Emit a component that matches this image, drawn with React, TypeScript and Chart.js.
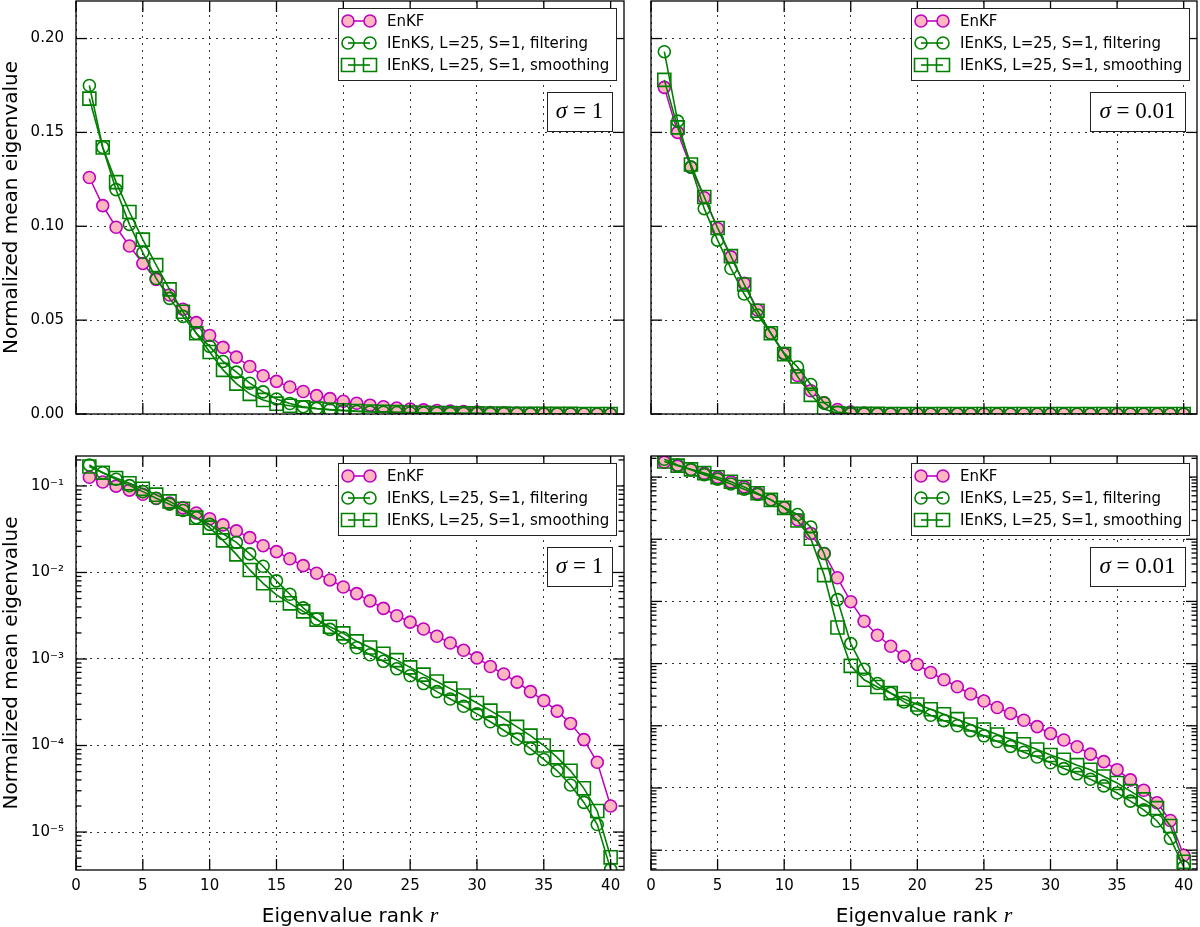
import React, { useEffect, useRef } from 'react';
import { Chart, registerables } from 'chart.js';

Chart.register(...registerables);

// eigenvalue rank r
const ranks = [1, 2, 3, 4, 5, 6, 7, 8, 9, 10, 11, 12, 13, 14, 15, 16, 17, 18, 19, 20,
  21, 22, 23, 24, 25, 26, 27, 28, 29, 30, 31, 32, 33, 34, 35, 36, 37, 38, 39, 40];

// sigma = 1
const enkfSigma1 = [0.126, 0.111, 0.0995, 0.0895, 0.0802, 0.0717, 0.0634, 0.0558, 0.0487, 0.0418,
  0.0355, 0.0303, 0.0253, 0.0204, 0.0174, 0.0144, 0.012, 0.0098, 0.0082, 0.0068,
  0.0057, 0.0047, 0.00385, 0.00316, 0.00267, 0.00222, 0.00183, 0.00153, 0.00126, 0.00103,
  8.2e-4, 6.7e-4, 5.4e-4, 4.2e-4, 3.3e-4, 2.5e-4, 1.8e-4, 1.17e-4, 6.4e-5, 2.0e-5];
const filterSigma1 = [0.175, 0.142, 0.1195, 0.101, 0.086, 0.0722, 0.0616, 0.052, 0.043, 0.036,
  0.028, 0.0223, 0.0164, 0.0118, 0.008, 0.0056, 0.0039, 0.0029, 0.0022, 0.00175,
  0.00135, 0.00112, 9.4e-4, 7.7e-4, 6.4e-4, 5.2e-4, 4.2e-4, 3.45e-4, 2.84e-4, 2.32e-4,
  1.88e-4, 1.5e-4, 1.19e-4, 9.2e-5, 6.9e-5, 5.1e-5, 3.5e-5, 2.2e-5, 1.22e-5, 3.7e-6];
const smoothSigma1 = [0.168, 0.142, 0.1235, 0.1076, 0.0929, 0.0793, 0.0664, 0.0545, 0.043, 0.033,
  0.0235, 0.0162, 0.0107, 0.0075, 0.0055, 0.0044, 0.00355, 0.00285, 0.00236, 0.00198,
  0.0016, 0.00136, 0.00115, 9.7e-4, 8.0e-4, 6.6e-4, 5.5e-4, 4.55e-4, 3.78e-4, 3.1e-4,
  2.53e-4, 2.05e-4, 1.64e-4, 1.3e-4, 1.0e-4, 7.3e-5, 5.1e-5, 3.2e-5, 1.75e-5, 5.1e-6];

// sigma = 0.01
const enkfSigma001 = [0.174, 0.15, 0.1315, 0.1152, 0.0988, 0.0837, 0.0696, 0.0554, 0.043, 0.032,
  0.0205, 0.0124, 0.0059, 0.0024, 9.9e-4, 4.8e-4, 2.86e-4, 1.9e-4, 1.31e-4, 9.7e-5,
  7.2e-5, 5.5e-5, 4.25e-5, 3.25e-5, 2.5e-5, 1.97e-5, 1.58e-5, 1.23e-5, 9.7e-6, 7.5e-6,
  5.9e-6, 4.6e-6, 3.5e-6, 2.65e-6, 1.97e-6, 1.35e-6, 9.2e-7, 5.8e-7, 3.0e-7, 8.3e-8];
const filterSigma001 = [0.193, 0.156, 0.1315, 0.1094, 0.0926, 0.0775, 0.0639, 0.0527, 0.043, 0.0324,
  0.025, 0.0157, 0.0059, 0.00107, 2.1e-4, 8.1e-5, 4.8e-5, 3.35e-5, 2.42e-5, 1.87e-5,
  1.48e-5, 1.21e-5, 1.0e-5, 8.35e-6, 6.9e-6, 5.6e-6, 4.67e-6, 3.75e-6, 3.15e-6, 2.55e-6,
  2.05e-6, 1.69e-6, 1.38e-6, 1.08e-6, 8.3e-7, 6.15e-7, 4.45e-7, 2.95e-7, 1.55e-7, 5.4e-8];
const smoothSigma001 = [0.178, 0.1527, 0.1329, 0.1156, 0.0991, 0.0841, 0.069, 0.055, 0.043, 0.0319,
  0.02, 0.0102, 0.00265, 3.8e-4, 9.2e-5, 5.5e-5, 4.2e-5, 3.35e-5, 2.7e-5, 2.2e-5,
  1.85e-5, 1.53e-5, 1.28e-5, 1.05e-5, 8.7e-6, 7.25e-6, 6.05e-6, 5.05e-6, 4.15e-6, 3.4e-6,
  2.84e-6, 2.33e-6, 1.96e-6, 1.53e-6, 1.2e-6, 8.9e-7, 6.55e-7, 4.75e-7, 2.45e-7, 6.5e-8];

const seriesLabels = ['EnKF', 'IEnKS, L=25, S=1, filtering', 'IEnKS, L=25, S=1, smoothing'];
const xTicks = [0, 5, 10, 15, 20, 25, 30, 35, 40];
const linTicks = [0, 0.05, 0.1, 0.15, 0.2];
const logTicksSigma1 = [1e-5, 1e-4, 1e-3, 1e-2, 1e-1];
const logTicksSigma001 = [1e-7, 1e-6, 1e-5, 1e-4, 1e-3, 1e-2, 1e-1];

const MAGENTA = '#bf00bf';
const PINK = '#ffb6c1';
const GREEN = '#008000';
const SANS = '"DejaVu Sans", sans-serif';
const SERIF = '"Liberation Serif", "DejaVu Serif", serif';
const SUP: Record<string, string> = { '-': '\u207b', '0': '\u2070', '1': '\u00b9', '2': '\u00b2', '3': '\u00b3', '4': '\u2074', '5': '\u2075', '6': '\u2076', '7': '\u2077', '8': '\u2078', '9': '\u2079' };

const powLabel = (v: number) => {
  const e = String(Math.round(Math.log10(v)));
  return '10' + e.split('').map((c) => SUP[c]).join('');
};

interface PanelProps {
  left: number;
  top: number;
  width: number;
  height: number;
  area: [number, number, number, number];
  log: boolean;
  yMin: number;
  yMax: number;
  yTicks: number[];
  yLabels: boolean;
  xLabels: boolean;
  sigma: string;
  sigmaWidth: number;
  enkf: number[];
  filt: number[];
  smooth: number[];
}

const drawMarker = (ctx: CanvasRenderingContext2D, kind: number, x: number, y: number) => {
  ctx.beginPath();
  if (kind === 2) {
    ctx.rect(x - 6.5, y - 6.5, 13, 13);
  } else {
    ctx.arc(x, y, 6, 0, Math.PI * 2);
  }
  if (kind === 0) {
    ctx.fillStyle = PINK;
    ctx.fill();
    ctx.strokeStyle = MAGENTA;
  } else {
    ctx.strokeStyle = GREEN;
  }
  ctx.lineWidth = 1.6;
  ctx.stroke();
};

const Panel: React.FC<PanelProps> = (p) => {
  const chartRef = useRef<HTMLCanvasElement>(null);
  const chartInstanceRef = useRef<Chart | null>(null);

  useEffect(() => {
    if (!chartRef.current) return;
    if (chartInstanceRef.current) chartInstanceRef.current.destroy();
    const ctx = chartRef.current.getContext('2d');
    if (!ctx) return;

    const [aL, aT, aR, aB] = p.area;

    const decor = {
      id: 'decor',
      afterDraw(chart: Chart) {
        const c = chart.ctx;
        const a = chart.chartArea;
        const xs = chart.scales.x;
        const ys = chart.scales.y;
        c.save();
        c.strokeStyle = '#000';
        c.lineWidth = 1.3;
        c.setLineDash([]);
        const tick = (x1: number, y1: number, x2: number, y2: number) => {
          c.beginPath();
          c.moveTo(x1, y1);
          c.lineTo(x2, y2);
          c.stroke();
        };
        xTicks.forEach((v) => {
          const px = xs.getPixelForValue(v);
          tick(px, a.bottom, px, a.bottom - 11);
          tick(px, a.top, px, a.top + 11);
        });
        p.yTicks.forEach((v) => {
          const py = ys.getPixelForValue(v);
          tick(a.left, py, a.left + 11, py);
          tick(a.right, py, a.right - 11, py);
        });
        if (p.log) {
          for (let e = Math.floor(Math.log10(p.yMin)); e <= 0; e++) {
            for (let k = 2; k <= 9; k++) {
              const v = k * Math.pow(10, e);
              if (v <= p.yMin || v >= p.yMax) continue;
              const py = ys.getPixelForValue(v);
              tick(a.left, py, a.left + 5.5, py);
              tick(a.right, py, a.right - 5.5, py);
            }
          }
        }
        c.strokeRect(a.left, a.top, a.right - a.left, a.bottom - a.top);

        // legend
        const bw = 278;
        const bh = 72;
        const bx = a.right - 8 - bw;
        const by = a.top + 7;
        c.fillStyle = '#fff';
        c.fillRect(bx, by, bw, bh);
        c.lineWidth = 1;
        c.strokeStyle = '#222';
        c.strokeRect(bx + 0.5, by + 0.5, bw, bh);
        seriesLabels.forEach((lab, i) => {
          const cy = by + 13 + 22 * i;
          c.beginPath();
          c.moveTo(bx + 10, cy);
          c.lineTo(bx + 32, cy);
          c.strokeStyle = i === 0 ? MAGENTA : GREEN;
          c.lineWidth = 1.6;
          c.stroke();
          drawMarker(c, i, bx + 10, cy);
          drawMarker(c, i, bx + 32, cy);
          c.fillStyle = '#000';
          c.font = `15px ${SANS}`;
          c.textAlign = 'left';
          c.textBaseline = 'middle';
          c.fillText(lab, bx + 49, cy + 1);
        });

        // sigma box
        const sw = p.sigmaWidth;
        const sx = a.right - 12 - sw;
        const sy = a.top + 91;
        c.fillStyle = '#fff';
        c.fillRect(sx, sy, sw, 39);
        c.strokeStyle = '#222';
        c.lineWidth = 1;
        c.strokeRect(sx + 0.5, sy + 0.5, sw, 39);
        c.font = `italic 23px ${SERIF}`;
        const w1 = c.measureText('\u03c3').width;
        c.font = `23px ${SERIF}`;
        const rest = ' = ' + p.sigma;
        const w2 = c.measureText(rest).width;
        let tx = sx + sw / 2 - (w1 + w2) / 2;
        c.fillStyle = '#000';
        c.textAlign = 'left';
        c.textBaseline = 'middle';
        c.font = `italic 23px ${SERIF}`;
        c.fillText('\u03c3', tx, sy + 20);
        tx += w1;
        c.font = `23px ${SERIF}`;
        c.fillText(rest, tx, sy + 20);

        // axis titles
        if (p.yLabels) {
          c.save();
          c.translate(12, (a.top + a.bottom) / 2);
          c.rotate(-Math.PI / 2);
          c.font = `20px ${SANS}`;
          c.textAlign = 'center';
          c.textBaseline = 'middle';
          c.fillText('Normalized mean eigenvalue', 0, 0);
          c.restore();
        }
        if (p.xLabels) {
          c.font = `20px ${SANS}`;
          const t1 = 'Eigenvalue rank ';
          const m1 = c.measureText(t1).width;
          c.font = `italic 22px ${SERIF}`;
          const m2 = c.measureText('r').width;
          const x0 = (a.left + a.right) / 2 - (m1 + m2) / 2;
          const y0 = a.bottom + 47;
          c.textAlign = 'left';
          c.textBaseline = 'middle';
          c.font = `20px ${SANS}`;
          c.fillText(t1, x0, y0);
          c.font = `italic 22px ${SERIF}`;
          c.fillText('r', x0 + m1, y0 - 1);
        }
        c.restore();
      },
    };

    const pts = (vals: number[]) => ranks.map((r, i) => ({ x: r, y: vals[i] }));
    const gridColor = 'rgba(0,0,0,0.8)';

    chartInstanceRef.current = new Chart(ctx, {
      type: 'line',
      data: {
        datasets: [
          {
            label: seriesLabels[0],
            data: pts(p.enkf),
            borderColor: MAGENTA,
            borderWidth: 1.5,
            backgroundColor: PINK,
            pointBackgroundColor: PINK,
            pointBorderColor: MAGENTA,
            pointBorderWidth: 1.6,
            pointRadius: 6,
            pointStyle: 'circle',
            tension: 0,
            order: 3,
          },
          {
            label: seriesLabels[1],
            data: pts(p.filt),
            borderColor: GREEN,
            borderWidth: 1.6,
            backgroundColor: 'rgba(0,0,0,0)',
            pointBackgroundColor: 'rgba(0,0,0,0)',
            pointBorderColor: GREEN,
            pointBorderWidth: 1.6,
            pointRadius: 6,
            pointStyle: 'circle',
            tension: 0,
            order: 2,
          },
          {
            label: seriesLabels[2],
            data: pts(p.smooth),
            borderColor: GREEN,
            borderWidth: 1.6,
            backgroundColor: 'rgba(0,0,0,0)',
            pointBackgroundColor: 'rgba(0,0,0,0)',
            pointBorderColor: GREEN,
            pointBorderWidth: 1.6,
            pointRadius: 9.2,
            pointStyle: 'rect',
            tension: 0,
            order: 1,
          },
        ],
      },
      options: {
        responsive: false,
        animation: false,
        events: [],
        layout: {
          autoPadding: false,
          padding: { left: 0, top: aT, right: p.width - aR, bottom: 0 },
        },
        plugins: {
          legend: { display: false },
          tooltip: { enabled: false },
        },
        scales: {
          x: {
            type: 'linear',
            min: 0,
            max: 41,
            afterBuildTicks: (s: any) => {
              s.ticks = xTicks.map((v) => ({ value: v }));
            },
            afterFit: (s: any) => {
              s.height = p.height - aB;
              s.paddingLeft = 0;
              s.paddingRight = 0;
              s.paddingTop = 0;
              s.paddingBottom = 0;
            },
            ticks: {
              display: p.xLabels,
              autoSkip: false,
              maxRotation: 0,
              padding: 7,
              color: '#000',
              font: { family: SANS, size: 15 },
            },
            grid: { color: gridColor, lineWidth: 1, drawTicks: false },
            border: { display: false, dash: [2, 5] },
          },
          y: {
            type: p.log ? 'logarithmic' : 'linear',
            min: p.yMin,
            max: p.yMax,
            afterBuildTicks: (s: any) => {
              s.ticks = p.yTicks.map((v) => ({ value: v }));
            },
            afterFit: (s: any) => {
              s.width = aL;
              s.paddingLeft = 0;
              s.paddingRight = 0;
              s.paddingTop = 0;
              s.paddingBottom = 0;
            },
            ticks: {
              display: p.yLabels,
              autoSkip: false,
              padding: 12,
              color: '#000',
              font: { family: SANS, size: 15 },
              callback: (v: any) => (p.log ? powLabel(Number(v)) : Number(v).toFixed(2)),
            },
            grid: { color: gridColor, lineWidth: 1, drawTicks: false },
            border: { display: false, dash: [2, 5] },
          },
        },
      },
      plugins: [decor],
    } as any);

    return () => {
      if (chartInstanceRef.current) {
        chartInstanceRef.current.destroy();
        chartInstanceRef.current = null;
      }
    };
  }, []);

  return (
    <canvas
      ref={chartRef}
      width={p.width}
      height={p.height}
      style={{ position: 'absolute', left: p.left, top: p.top, width: p.width, height: p.height }}
    />
  );
};

const App: React.FC = () => {
  return (
    <div style={{ position: 'absolute', left: 0, top: 0, width: 1200, height: 927, background: '#fff', overflow: 'hidden' }}>
      <Panel left={0} top={0} width={638} height={430} area={[76, 1, 624, 414]} log={false}
        yMin={0} yMax={0.22} yTicks={linTicks} yLabels={true} xLabels={false}
        sigma="1" sigmaWidth={65} enkf={enkfSigma1} filt={filterSigma1} smooth={smoothSigma1} />
      <Panel left={638} top={0} width={562} height={430} area={[13, 1, 559, 414]} log={false}
        yMin={0} yMax={0.22} yTicks={linTicks} yLabels={false} xLabels={false}
        sigma="0.01" sigmaWidth={95} enkf={enkfSigma001} filt={filterSigma001} smooth={smoothSigma001} />
      <Panel left={0} top={430} width={638} height={497} area={[76, 26, 624, 440]} log={true}
        yMin={3.64e-6} yMax={0.222} yTicks={logTicksSigma1} yLabels={true} xLabels={true}
        sigma="1" sigmaWidth={65} enkf={enkfSigma1} filt={filterSigma1} smooth={smoothSigma1} />
      <Panel left={638} top={430} width={562} height={497} area={[13, 26, 559, 440]} log={true}
        yMin={4.8e-8} yMax={0.218} yTicks={logTicksSigma001} yLabels={false} xLabels={true}
        sigma="0.01" sigmaWidth={95} enkf={enkfSigma001} filt={filterSigma001} smooth={smoothSigma001} />
    </div>
  );
};

export default App;
